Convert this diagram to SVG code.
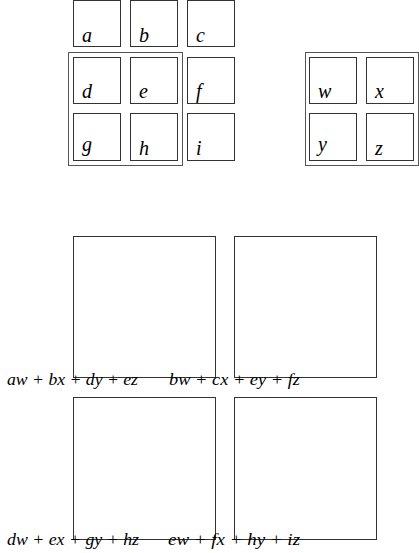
<svg xmlns="http://www.w3.org/2000/svg" width="419" height="553" viewBox="0 0 419 553">
<style>
.b{fill:none;stroke:#333;stroke-width:1}
.o{fill:none;stroke:#555;stroke-width:1}
.l{font-family:"Liberation Serif",serif;font-style:italic;font-size:20px;fill:#000}
.t{font-family:"Liberation Serif",serif;font-style:italic;font-size:17px;fill:#000}
</style>
<rect width="419" height="553" fill="#fff"/>
<g id="groupA"><rect class="o" x="68.5" y="52.5" width="114" height="113"/></g>
<g id="groupB"><rect class="o" x="305.5" y="52.5" width="113" height="113"/></g>
<g id="a"><rect class="b" x="73.5" y="0.5" width="47" height="46"/><text class="l" x="82" y="42">a</text></g>
<g id="b"><rect class="b" x="130.5" y="0.5" width="47" height="46"/><text class="l" x="139" y="42">b</text></g>
<g id="c"><rect class="b" x="187.5" y="0.5" width="47" height="46"/><text class="l" x="196" y="42">c</text></g>
<g id="d"><rect class="b" x="73.5" y="57.5" width="47" height="46"/><text class="l" x="82" y="98">d</text></g>
<g id="e"><rect class="b" x="130.5" y="57.5" width="47" height="46"/><text class="l" x="139" y="98">e</text></g>
<g id="f"><rect class="b" x="187.5" y="57.5" width="47" height="46"/><text class="l" x="196" y="98">f</text></g>
<g id="g"><rect class="b" x="73.5" y="113.5" width="47" height="47"/><text class="l" x="82" y="151">g</text></g>
<g id="h"><rect class="b" x="130.5" y="113.5" width="47" height="47"/><text class="l" x="139" y="155">h</text></g>
<g id="i"><rect class="b" x="187.5" y="113.5" width="47" height="47"/><text class="l" x="196" y="155">i</text></g>
<g id="w"><rect class="b" x="309.5" y="57.5" width="47" height="46"/><text class="l" x="318" y="98">w</text></g>
<g id="x"><rect class="b" x="366.5" y="57.5" width="47" height="46"/><text class="l" x="375" y="98">x</text></g>
<g id="y"><rect class="b" x="309.5" y="113.5" width="47" height="47"/><text class="l" x="318" y="151">y</text></g>
<g id="z"><rect class="b" x="366.5" y="113.5" width="47" height="47"/><text class="l" x="375" y="155">z</text></g>
<g id="r1"><rect class="b" x="73.5" y="236.5" width="142" height="141"/></g>
<g id="r2"><rect class="b" x="234.5" y="236.5" width="142" height="141"/></g>
<g id="r3"><rect class="b" x="73.5" y="397.5" width="142" height="142"/></g>
<g id="r4"><rect class="b" x="234.5" y="397.5" width="142" height="142"/></g>
<g id="labels">
<text class="t" x="7" y="385" textLength="131" lengthAdjust="spacingAndGlyphs">aw + bx + dy + ez</text>
<text class="t" x="169" y="385" textLength="131" lengthAdjust="spacingAndGlyphs">bw + cx + ey + fz</text>
<text class="t" x="7" y="545" textLength="132" lengthAdjust="spacingAndGlyphs">dw + ex + gy + hz</text>
<text class="t" x="168" y="545" textLength="132" lengthAdjust="spacingAndGlyphs">ew + fx + hy + iz</text>
</g>
</svg>
